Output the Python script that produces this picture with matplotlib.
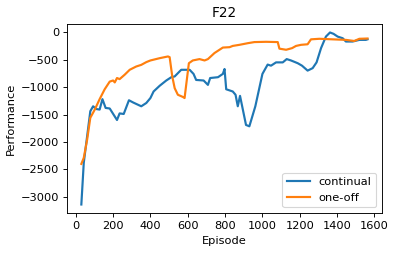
import matplotlib
matplotlib.use("Agg")
import matplotlib.pyplot as plt

cont_ep = [30, 43, 78, 93, 110, 128, 143, 160, 182, 221, 235, 257, 285, 307, 351, 378, 400, 417,
           450, 485, 512, 530, 565, 610, 631, 645, 685, 708, 720, 762, 788, 797, 806, 841, 856,
           868, 880, 912, 930, 962, 1000, 1028, 1046, 1073, 1109, 1130, 1153, 1189, 1212, 1242,
           1269, 1290, 1314, 1340, 1362, 1381, 1403, 1430, 1447, 1483, 1519, 1554, 1563]
cont_val = [-3140, -2380, -1440, -1350, -1400, -1410, -1220, -1380, -1390, -1600, -1480, -1490,
            -1240, -1280, -1350, -1290, -1200, -1080, -975, -880, -820, -806, -685, -685, -760,
            -870, -880, -960, -835, -820, -760, -670, -1040, -1080, -1140, -1350, -1160, -1690,
            -1715, -1350, -760, -590, -610, -550, -550, -490, -515, -565, -610, -700, -655, -550,
            -290, -80, -5, -30, -80, -110, -170, -170, -140, -140, -130]

once_ep = [30, 43, 61, 78, 102, 128, 155, 182, 200, 209, 221, 235, 262, 289, 324, 351, 378, 400,
           450, 494, 503, 517, 530, 547, 574, 583, 595, 606, 627, 663, 690, 708, 743, 788, 824,
           841, 877, 922, 957, 1020, 1082, 1091, 1127, 1159, 1180, 1207, 1242, 1260, 1305, 1376,
           1447, 1492, 1519, 1563]
once_val = [-2400, -2290, -1960, -1560, -1410, -1220, -1040, -900, -880, -915, -835, -855, -775,
            -685, -625, -595, -545, -515, -473, -442, -455, -806, -1020, -1140, -1180, -1200,
            -867, -565, -515, -490, -515, -490, -380, -280, -273, -250, -230, -200, -180, -175,
            -180, -300, -320, -290, -250, -230, -220, -130, -120, -130, -140, -160, -120, -115]

DPI = 82
fig = plt.figure(figsize=(399 / DPI, 254 / DPI), dpi=DPI)
ax = fig.add_axes([0.168, 0.161, 0.789, 0.745])
ax.plot(cont_ep, cont_val, color="#1f77b4", label="continual", linewidth=1.9)
ax.plot(once_ep, once_val, color="#ff7f0e", label="one-off", linewidth=1.9)
ax.set_title("F22")
ax.set_xlabel("Episode")
ax.set_ylabel("Performance")
ax.set_xticks([0, 200, 400, 600, 800, 1000, 1200, 1400, 1600])
ax.legend(loc="lower right")
fig.savefig("out.png", dpi=DPI)
